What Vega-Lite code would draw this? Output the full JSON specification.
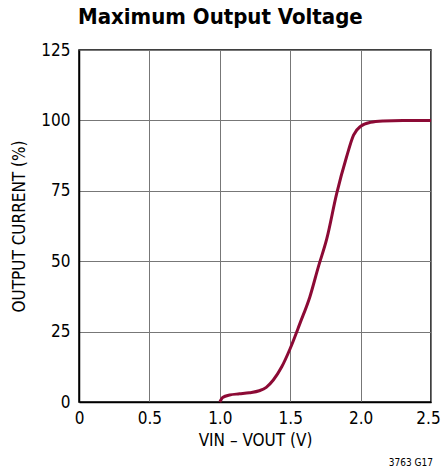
{
  "$schema": "https://vega.github.io/schema/vega-lite/v6.json",
  "autosize": "none",
  "width": 352,
  "height": 352,
  "padding": {"left": 79, "top": 50, "right": 11, "bottom": 71},
  "background": "white",
  "title": {
    "text": "Maximum Output Voltage",
    "anchor": "start",
    "frame": "group",
    "font": "DejaVu Sans Condensed, Liberation Sans, sans-serif",
    "fontSize": 22,
    "fontWeight": "bold",
    "color": "#000000",
    "offset": 12,
    "dx": -1
  },
  "config": {
    "view": {"stroke": "#000000", "strokeWidth": 1.5},
    "axis": {
      "labelFont": "DejaVu Sans Condensed, Liberation Sans, sans-serif",
      "titleFont": "DejaVu Sans Condensed, Liberation Sans, sans-serif",
      "labelFontSize": 17,
      "titleFontSize": 17,
      "titleFontWeight": "normal",
      "labelColor": "#000000",
      "titleColor": "#000000",
      "gridColor": "#777777",
      "gridWidth": 1,
      "gridOpacity": 1,
      "domainColor": "#000000",
      "domainWidth": 1.5,
      "ticks": false
    }
  },
  "data": {
    "values": [
      {"v": 1.0, "i": 0},
      {"v": 1.02, "i": 1.6},
      {"v": 1.07, "i": 2.5},
      {"v": 1.14, "i": 2.9},
      {"v": 1.21, "i": 3.3},
      {"v": 1.28, "i": 4.0},
      {"v": 1.33, "i": 5.2},
      {"v": 1.38, "i": 7.8},
      {"v": 1.44, "i": 12.5},
      {"v": 1.5, "i": 19},
      {"v": 1.57, "i": 28},
      {"v": 1.64, "i": 37.4},
      {"v": 1.7, "i": 48},
      {"v": 1.76, "i": 58},
      {"v": 1.83, "i": 74},
      {"v": 1.9, "i": 87},
      {"v": 1.95, "i": 94.8},
      {"v": 2.0, "i": 97.9},
      {"v": 2.07, "i": 99.3},
      {"v": 2.16, "i": 99.8},
      {"v": 2.3, "i": 100},
      {"v": 2.5, "i": 100}
    ]
  },
  "layer": [
    {
      "mark": {"type": "line", "color": "#8c0a35", "strokeWidth": 3, "interpolate": "monotone"},
      "encoding": {
        "x": {
          "field": "v",
          "type": "quantitative",
          "scale": {"domain": [0, 2.5], "nice": false},
          "axis": {
            "values": [0, 0.5, 1, 1.5, 2, 2.5],
            "labelExpr": "datum.value == 0 ? '0' : format(datum.value, '.1f')",
            "labelPadding": 8,
            "labelOffset": {"condition": {"test": "datum.value == 2.5", "value": -3}, "value": 0},
            "title": "VIN – VOUT (V)",
            "titlePadding": 6,
            "labelFlush": false
          }
        },
        "y": {
          "field": "i",
          "type": "quantitative",
          "scale": {"domain": [0, 125], "nice": false},
          "axis": {
            "values": [0, 25, 50, 75, 100, 125],
            "labelPadding": 9,
            "title": "OUTPUT CURRENT (%)",
            "titlePadding": 12,
            "labelFlush": false
          }
        }
      }
    },
    {
      "data": {"values": [{"note": "3763 G17", "x": 2.5, "y": 0}]},
      "mark": {"type": "text", "font": "DejaVu Sans Condensed, Liberation Sans, sans-serif", "fontSize": 10, "align": "right", "baseline": "bottom", "dy": 66, "dx": 2, "color": "#000000"},
      "encoding": {
        "x": {"field": "x", "type": "quantitative"},
        "y": {"field": "y", "type": "quantitative"},
        "text": {"field": "note"}
      }
    }
  ]
}
